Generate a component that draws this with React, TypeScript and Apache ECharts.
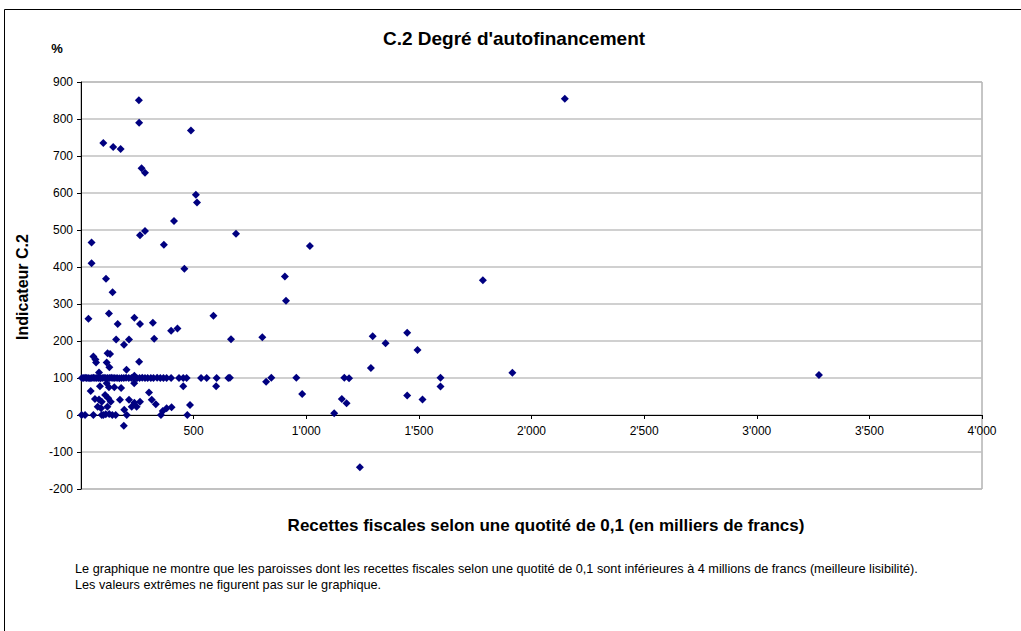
import React, { useEffect, useRef } from "react";
import * as echarts from "echarts";

// Recettes fiscales (milliers de francs) et indicateur C.2 (%)
const highX = [257, 258, 99, 143, 176, 269, 284, 488, 510, 515, 413, 262, 284, 688, 47, 368, 47, 111, 140, 459, 905, 910, 1016, 1784, 2148, 1915, 3276];
const highY = [851, 790, 735, 724, 719, 667, 655, 769, 595, 574, 524, 486, 497, 490, 466, 460, 410, 368, 332, 395, 374, 309, 457, 364, 855, 114, 108];

const midX = [33, 124, 163, 237, 262, 319, 588, 400, 428, 156, 191, 213, 325, 666, 805, 1295, 1352, 1448, 1494, 1287, 55, 64, 67, 118, 129, 114, 126, 258, 202, 80, 237];
const midY = [260, 274, 246, 263, 246, 249, 268, 228, 234, 204, 190, 204, 206, 205, 210, 213, 194, 222, 176, 127, 158, 150, 142, 167, 165, 142, 129, 144, 122, 115, 106];

const hundredX = [4, 10, 18, 25, 32, 40, 48, 55, 62, 70, 78, 86, 94, 102, 110, 118, 126, 134, 142, 150, 160, 170, 180, 190, 200, 212, 224, 236, 248, 260, 272, 284, 296, 310, 322, 338, 352, 366, 380, 400, 435, 454, 469, 533, 558, 602, 654, 661, 845, 956, 1169, 1190, 1596];
const hundredY = [100, 100, 101, 100, 100, 99, 100, 101, 100, 100, 100, 99, 100, 101, 100, 100, 100, 101, 100, 100, 100, 99, 100, 100, 101, 100, 100, 100, 99, 100, 101, 100, 100, 100, 100, 101, 100, 100, 100, 100, 100, 100, 100, 100, 100, 100, 100, 101, 101, 101, 101, 99, 101];

const lowX = [454, 600, 822, 982, 1158, 1179, 1124, 1448, 1516, 1596, 84, 43, 114, 124, 148, 178, 236, 302, 62, 80, 92, 107, 121, 132, 74, 89, 117, 173, 192, 213, 237, 247, 225, 262, 314, 332, 363, 380, 402, 484];
const lowY = [78, 78, 90, 57, 43, 32, 5, 53, 42, 77, 78, 65, 86, 75, 75, 73, 86, 61, 43, 42, 36, 54, 45, 36, 22, 18, 22, 41, 14, 41, 33, 22, 22, 36, 41, 29, 11, 18, 21, 27];

const zeroX = [3, 18, 55, 92, 99, 139, 154, 203, 355, 472, 110, 125, 190, 1238];
const zeroY = [0, 0, 0, 0, 0, 0, 0, 0, 0, 0, 2, 3, -29, -141];

const xTicks = [0, 500, 1000, 1500, 2000, 2500, 3000, 3500, 4000];
const yTicks = [-200, -100, 0, 100, 200, 300, 400, 500, 600, 700, 800, 900];

const fmtThousands = (v: number) => {
  if (v === 0) return "";
  if (v >= 1000) {
    const t = Math.floor(v / 1000);
    const r = String(v % 1000).padStart(3, "0");
    return `${t}'${r}`;
  }
  return String(v);
};

const FONT = "'Liberation Sans', Arial, sans-serif";

export default function App() {
  const ref = useRef<HTMLDivElement>(null);
  useEffect(() => {
    if (!ref.current) return;
    const chart = echarts.init(ref.current, null, { renderer: "svg" });
    const pts: [number, number][] = [];
    const add = (xs: number[], ys: number[]) => xs.forEach((x, i) => pts.push([x, ys[i]]));
    add(highX, highY);
    add(midX, midY);
    add(hundredX, hundredY);
    add(lowX, lowY);
    add(zeroX, zeroY);

    chart.setOption({
      animation: false,
      backgroundColor: "#ffffff",
      textStyle: { fontFamily: FONT },
      grid: {
        left: 81,
        top: 82,
        right: 39,
        bottom: 142,
        show: true,
        borderColor: "#8c8c8c",
        borderWidth: 1,
        backgroundColor: "transparent",
      },
      xAxis: {
        type: "value",
        min: xTicks[0],
        max: xTicks[xTicks.length - 1],
        interval: 500,
        offset: -74,
        axisLine: { show: true, onZero: false, lineStyle: { color: "#000000", width: 1 } },
        axisTick: { show: true, inside: false, length: 4, lineStyle: { color: "#000000" } },
        axisLabel: {
          show: true,
          margin: 10,
          color: "#000000",
          fontSize: 12,
          fontFamily: FONT,
          formatter: (v: number) => fmtThousands(v),
        },
        splitLine: { show: false },
      },
      yAxis: {
        type: "value",
        min: yTicks[0],
        max: yTicks[yTicks.length - 1],
        interval: 100,
        axisLine: { show: true, lineStyle: { color: "#000000", width: 1 } },
        axisTick: { show: true, inside: false, length: 4, lineStyle: { color: "#000000" } },
        axisLabel: {
          show: true,
          margin: 8,
          color: "#000000",
          fontSize: 12,
          fontFamily: FONT,
        },
        splitLine: { show: true, lineStyle: { color: "#c0c0c0", width: 1.5 } },
      },
      series: [
        {
          type: "scatter",
          data: pts,
          symbol: "diamond",
          symbolSize: 8,
          itemStyle: { color: "#000080", opacity: 1 },
          z: 5,
        },
      ],
      graphic: [
        {
          type: "rect",
          shape: { x: 4.5, y: 9.5, width: 1030, height: 640 },
          style: { fill: "none", stroke: "#000000", lineWidth: 1 },
          silent: true,
          z: -10,
        },
        {
          type: "text",
          x: 514,
          y: 38,
          style: {
            text: "C.2 Degré d'autofinancement",
            font: `bold 19px ${FONT}`,
            fill: "#000000",
            textAlign: "center",
            textVerticalAlign: "middle",
          },
        },
        {
          type: "text",
          x: 57,
          y: 48,
          style: {
            text: "%",
            font: `bold 13px ${FONT}`,
            fill: "#000000",
            textAlign: "center",
            textVerticalAlign: "middle",
          },
        },
        {
          type: "text",
          x: 22,
          y: 287,
          rotation: Math.PI / 2,
          style: {
            text: "Indicateur C.2",
            font: `bold 16px ${FONT}`,
            fill: "#000000",
            textAlign: "center",
            textVerticalAlign: "middle",
          },
        },
        {
          type: "text",
          x: 546,
          y: 525,
          style: {
            text: "Recettes fiscales selon une quotité de 0,1 (en milliers de francs)",
            font: `bold 17px ${FONT}`,
            fill: "#000000",
            textAlign: "center",
            textVerticalAlign: "middle",
          },
        },
        {
          type: "text",
          x: 75,
          y: 569,
          style: {
            text: "Le graphique ne montre que les paroisses dont les recettes fiscales selon une quotité de 0,1 sont inférieures à 4 millions de francs (meilleure lisibilité).",
            font: `12.7px ${FONT}`,
            fill: "#000000",
            textAlign: "left",
            textVerticalAlign: "middle",
          },
        },
        {
          type: "text",
          x: 75,
          y: 585,
          style: {
            text: "Les valeurs extrêmes ne figurent pas sur le graphique.",
            font: `12.7px ${FONT}`,
            fill: "#000000",
            textAlign: "left",
            textVerticalAlign: "middle",
          },
        },
      ],
    });
    return () => chart.dispose();
  }, []);

  return (
    <div
      ref={ref}
      style={{ position: "absolute", left: 0, top: 0, width: 1021, height: 631, background: "#ffffff" }}
    />
  );
}
